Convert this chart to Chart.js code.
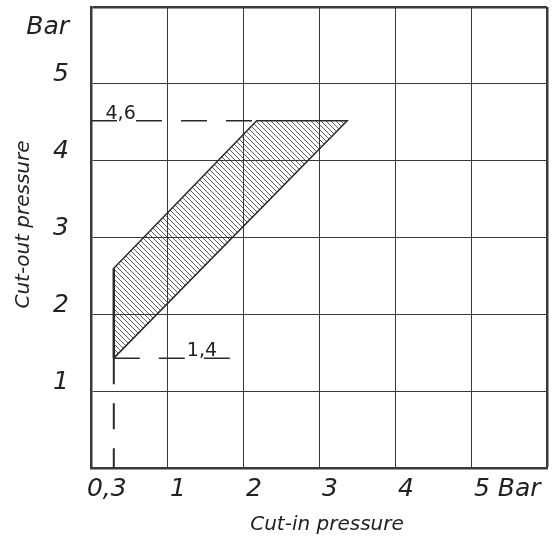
<!DOCTYPE html>
<html>
<head>
<meta charset="utf-8">
<script src="https://cdn.jsdelivr.net/npm/chart.js@4/dist/chart.umd.min.js"></script>
<style>
  html, body { margin: 0; padding: 0; background: #fff; }
  #wrap { width: 559px; height: 537px; }
</style>
</head>
<body>
<div id="wrap"><canvas id="c" width="559" height="537"></canvas></div>
<script>
// ---- data ----
const xTickValues = [0.3, 1, 2, 3, 4, 5];
const xTickLabels = ['0,3', '1', '2', '3', '4', '5 Bar'];
const yTickValues = [1, 2, 3, 4, 5];
const yTickLabels = ['1', '2', '3', '4', '5'];
const yUnitLabel = 'Bar';
const yUnitPos = 5.62;
const axisMax = 6;

// hatched working range (cut-in, cut-out)
const rangeCutIn  = [0.3, 0.3, 2.18, 3.37, 0.3];
const rangeCutOut = [1.43, 2.6, 4.52, 4.52, 1.43];

// dashed guide lines
const upperGuideX = [0, 2.18];
const upperGuideY = [4.52, 4.52];
const lowerGuideX = [0.3, 1.9];
const lowerGuideY = [1.43, 1.43];
const minCutInX = [0.3, 0.3];
const minCutInY = [1.43, 0];

// guide labels
const guideLabels = ['4,6', '1,4'];
const guideLabelX = [0.39, 1.46];
const guideLabelY = [4.52, 1.43];

const toPts = (xs, ys) => xs.map((x, i) => ({ x, y: ys[i] }));

// hatch pattern
function makeHatch() {
  const s = 5;
  const c = document.createElement('canvas');
  c.width = s; c.height = s;
  const g = c.getContext('2d');
  g.strokeStyle = '#333';
  g.lineWidth = 0.8;
  g.beginPath();
  for (const o of [-s, 0, s]) { g.moveTo(o, 0); g.lineTo(o + s, s); }
  g.stroke();
  return g.createPattern(c, 'repeat');
}

Chart.defaults.font.family = '"DejaVu Sans", sans-serif';
Chart.defaults.color = '#222';

const ink = '#2a2a2a';
const tickFont = { family: '"DejaVu Sans", sans-serif', size: 25, style: 'italic', weight: 300 };
const titleFont = { family: '"DejaVu Sans", sans-serif', size: 20, style: 'italic', weight: 300 };

const zeroPad = (s) => { s.paddingTop = 0; s.paddingBottom = 0; s.paddingLeft = 0; s.paddingRight = 0; };

// small shifts of the axis titles, as in the reference
const titleShift = { x: [8, 0], y: [0, -13] };
function shiftTitle(scale, d) {
  if (scale._shifted) return;
  scale._shifted = true;
  const orig = scale.drawTitle.bind(scale);
  scale.drawTitle = function () {
    this.ctx.save();
    this.ctx.translate(d[0], d[1]);
    orig();
    this.ctx.restore();
  };
}

const tweakPlugin = {
  id: 'tweak',
  afterLayout(chart) {
    shiftTitle(chart.scales.x, titleShift.x);
    shiftTitle(chart.scales.y, titleShift.y);
  },
  beforeDraw(chart) {
    const xs = chart.scales.x;
    const items = xs.getLabelItems(chart.chartArea);
    const it = items.find(i => i.label === '0,3');
    if (it && !it._tw) {
      it._tw = true;
      it.options.textAlign = 'center';
      it.options.translation[0] -= 10;
    }
  },
  afterDatasetsDraw(chart) {
    const { ctx, scales: { x, y } } = chart;
    ctx.save();
    ctx.font = '19px "DejaVu Sans", sans-serif';
    ctx.fillStyle = '#222';
    ctx.textAlign = 'center';
    ctx.textBaseline = 'alphabetic';
    guideLabels.forEach((t, i) => {
      ctx.fillText(t, x.getPixelForValue(guideLabelX[i]), y.getPixelForValue(guideLabelY[i]) - 2);
    });
    ctx.restore();
  }
};

const dashed = (data) => ({
  type: 'scatter', data, showLine: true, fill: false,
  borderColor: ink, borderWidth: 1.5, borderDash: [26, 19],
  pointRadius: 0, pointHoverRadius: 0
});

new Chart(document.getElementById('c'), {
  type: 'scatter',
  data: {
    datasets: [
      {
        data: toPts(rangeCutIn, rangeCutOut), showLine: true,
        fill: 'shape', backgroundColor: makeHatch(),
        borderColor: ink, borderWidth: 1.5, pointRadius: 0, pointHoverRadius: 0, tension: 0
      },
      {
        type: 'scatter', data: toPts([0.3, 0.3], [2.6, 1.43]), showLine: true, fill: false,
        borderColor: ink, borderWidth: 2.5, pointRadius: 0
      },
      dashed(toPts(upperGuideX, upperGuideY)),
      dashed(toPts(lowerGuideX, lowerGuideY)),
      Object.assign(dashed(toPts(minCutInX, minCutInY)), { borderWidth: 2 })
    ]
  },
  options: {
    responsive: false,
    animation: false,
    events: [],
    layout: { padding: { top: 7, right: 12, left: 0, bottom: 0 } },
    plugins: { legend: { display: false }, tooltip: { enabled: false } },
    scales: {
      x: {
        type: 'linear', min: 0, max: axisMax,
        afterBuildTicks: (s) => { s.ticks = [...xTickValues, axisMax].map(v => ({ value: v })); },
        afterFit: (s) => { s.height = 69; zeroPad(s); },
        ticks: {
          autoSkip: false, maxRotation: 0, minRotation: 0,
          align: 'start', labelOffset: 3, padding: 6,
          font: tickFont, color: '#222',
          callback: (v) => { const i = xTickValues.indexOf(v); return i >= 0 ? xTickLabels[i] : ''; }
        },
        grid: {
          drawTicks: false,
          color: (c) => (c.tick && c.tick.value === 0.3) ? 'rgba(0,0,0,0)' : '#3a3a3a',
          lineWidth: (c) => (c.tick && c.tick.value === axisMax) ? 2.5 : 1
        },
        border: { display: true, color: '#3a3a3a', width: 2.5 },
        title: { display: true, text: 'Cut-in pressure', font: titleFont, color: '#222', padding: { top: 0, bottom: 0 } }
      },
      y: {
        type: 'linear', min: 0, max: axisMax,
        afterBuildTicks: (s) => { s.ticks = [...yTickValues, yUnitPos, axisMax].map(v => ({ value: v })); },
        afterFit: (s) => { s.width = 91; zeroPad(s); },
        ticks: {
          autoSkip: false, padding: 22, labelOffset: -9,
          font: tickFont, color: '#222',
          callback: (v) => {
            if (v === yUnitPos) return yUnitLabel;
            const i = yTickValues.indexOf(v); return i >= 0 ? yTickLabels[i] : '';
          }
        },
        grid: {
          drawTicks: false,
          color: (c) => (c.tick && c.tick.value === yUnitPos) ? 'rgba(0,0,0,0)' : '#3a3a3a',
          lineWidth: (c) => (c.tick && c.tick.value === axisMax) ? 2.5 : 1
        },
        border: { display: true, color: '#3a3a3a', width: 2.5 },
        title: { display: true, text: 'Cut-out pressure', font: titleFont, color: '#222', padding: { top: 12, bottom: 0 } }
      }
    }
  },
  plugins: [tweakPlugin]
});
</script>
</body>
</html>
